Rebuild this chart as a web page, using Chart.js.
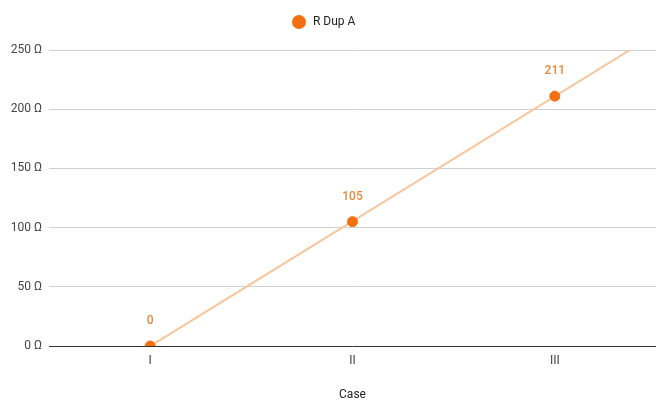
<!DOCTYPE html>
<html>
<head>
<meta charset="utf-8">
<script src="https://cdn.jsdelivr.net/npm/chart.js@4/dist/chart.umd.min.js"></script>
<style>
  html, body { margin: 0; padding: 0; background: #fff; }
  #wrap { width: 657px; height: 400px; position: relative; }
</style>
</head>
<body>
<div id="wrap"><canvas id="myChart"></canvas></div>
<script>
var cases = ['I', 'II', 'III'];
var resistance = [0, 105, 211];
var yTicks = [0, 50, 100, 150, 200, 250];
var seriesName = 'R Dup A';

var pointColor = '#f4700f';
var trendColor = '#f8c69c';
var labelColor = '#e8893c';

// least squares line through the points, stretched to the right edge
function trend() {
  var n = resistance.length, sx = 0, sy = 0, sxy = 0, sxx = 0;
  for (var i = 0; i < n; i++) {
    sx += i; sy += resistance[i]; sxy += i * resistance[i]; sxx += i * i;
  }
  var b = (n * sxy - sx * sy) / (n * sxx - sx * sx);
  var a = (sy - b * sx) / n;
  return [{x: 0, y: a}, {x: n - 0.5, y: a + b * (n - 0.5)}];
}

var points = resistance.map(function (v, i) { return {x: i, y: v}; });

var valueLabels = {
  id: 'valueLabels',
  afterDatasetsDraw: function (chart) {
    var c = chart.ctx;
    var meta = chart.getDatasetMeta(1);
    c.save();
    c.font = '500 12px Roboto';
    c.fillStyle = labelColor;
    c.textAlign = 'center';
    c.textBaseline = 'middle';
    meta.data.forEach(function (el, i) {
      c.fillText(String(resistance[i]), el.x, el.y - 25);
    });
    c.restore();
  }
};

var topLegend = {
  id: 'topLegend',
  afterDraw: function (chart) {
    var c = chart.ctx;
    c.save();
    c.beginPath();
    c.arc(299, 22, 7, 0, Math.PI * 2);
    c.fillStyle = pointColor;
    c.fill();
    c.font = '12px Roboto';
    c.fillStyle = '#222';
    c.textBaseline = 'middle';
    c.fillText(seriesName, 313, 22);
    c.restore();
  }
};

var ctx = document.getElementById('myChart').getContext('2d');
new Chart(ctx, {
  type: 'scatter',
  data: {
    datasets: [
      {
        label: 'trend',
        type: 'line',
        data: trend(),
        borderColor: trendColor,
        borderWidth: 2,
        pointRadius: 0,
        order: 2
      },
      {
        label: seriesName,
        data: points,
        backgroundColor: pointColor,
        borderColor: pointColor,
        pointRadius: 5,
        order: 1
      }
    ]
  },
  plugins: [valueLabels, topLegend],
  options: {
    responsive: true,
    maintainAspectRatio: false,
    animation: false,
    layout: { autoPadding: false, padding: { top: 50, right: 1, left: 0, bottom: 0 } },
    plugins: {
      legend: { display: false },
      tooltip: { enabled: false }
    },
    scales: {
      x: {
        type: 'linear',
        min: -0.5,
        max: cases.length - 0.5,
        afterBuildTicks: function (scale) {
          scale.ticks = cases.map(function (c, i) { return {value: i}; });
        },
        afterFit: function (scale) { scale.height = 54; },
        grid: { display: false, drawTicks: false },
        border: { display: false },
        ticks: {
          padding: 8,
          color: '#444',
          font: { family: 'Roboto', size: 12 },
          callback: function (v) { return cases[v]; }
        },
        title: {
          display: true,
          text: 'Case',
          color: '#222',
          font: { family: 'Roboto', size: 12 },
          padding: { top: 4, bottom: -2 }
        }
      },
      y: {
        min: 0,
        max: 250,
        afterBuildTicks: function (scale) {
          scale.ticks = yTicks.map(function (v) { return {value: v}; });
        },
        afterFit: function (scale) { scale.width = 49; },
        border: { display: false },
        grid: {
          drawTicks: false,
          color: function (c) { return c.tick && c.tick.value === 0 ? '#333' : '#cfcfcf'; },
          lineWidth: 1
        },
        ticks: {
          padding: 7,
          color: '#444',
          font: { family: 'Roboto', size: 12 },
          callback: function (v) { return v + ' Ω'; }
        }
      }
    }
  }
});
</script>
</body>
</html>
